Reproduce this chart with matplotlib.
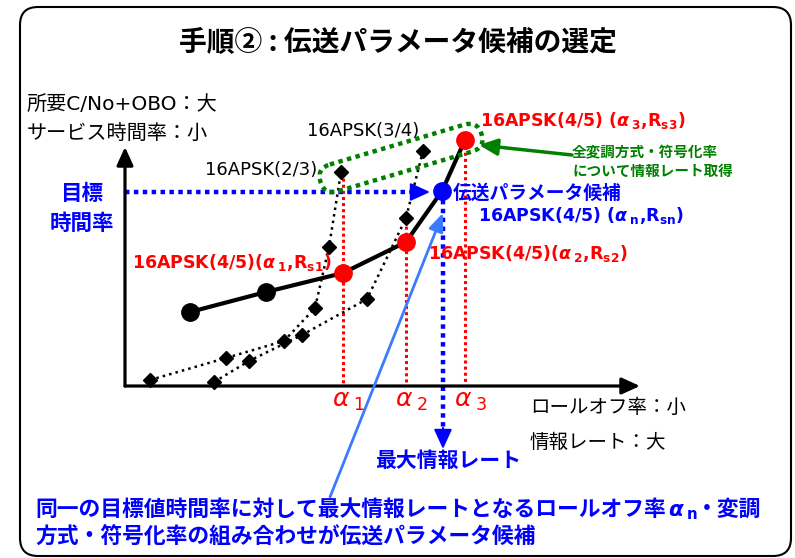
import matplotlib
matplotlib.use("Agg")
import matplotlib.pyplot as plt
from matplotlib.patches import FancyBboxPatch
from matplotlib.transforms import Affine2D

# ---- data (picture units: x = roll-off axis, y = required C/No+OBO axis, y grows downward) ----
apsk45_x = [190, 266, 343, 406, 442, 465]          # 16APSK(4/5)
apsk45_y = [312, 292, 273, 242, 191, 140]
apsk45_mark = ["k", "k", "r", "r", "b", "r"]
apsk23_x = [150, 226, 284, 315, 329, 341]          # 16APSK(2/3)
apsk23_y = [380, 358, 341, 308, 247, 172]
apsk34_x = [214, 249, 302, 367, 406, 423]          # 16APSK(3/4)
apsk34_y = [382, 361, 335, 299, 218, 151]
alpha_x = [343, 406, 465]                          # alpha_1..alpha_3
alpha_top = [172, 220, 140]
alpha_sub = ["1", "2", "3"]
target_y = 192                                     # target time rate
cand_x, cand_y = 443, 191                          # chosen candidate
origin = (125, 386)
x_end, y_end = 640, 147

RED, BLUE, GREEN, LBLUE = "#ff0000", "#0000ff", "#008000", "#3b7bff"
JP = ["Noto Sans CJK JP"]
MIX = ["DejaVu Sans", "Noto Sans CJK JP"]

plt.rcParams["mathtext.fontset"] = "custom"
plt.rcParams["mathtext.rm"] = "DejaVu Sans:bold"
plt.rcParams["mathtext.it"] = "DejaVu Sans:italic:bold"
plt.rcParams["mathtext.bf"] = "DejaVu Sans:bold"
plt.rcParams["mathtext.sf"] = "DejaVu Sans"
plt.rcParams["mathtext.tt"] = "DejaVu Sans:italic"

W, H = 795, 558
fig = plt.figure(figsize=(W / 100, H / 100), dpi=100)
ax = fig.add_axes([0, 0, 1, 1])
ax.set_xlim(0, W); ax.set_ylim(H, 0); ax.set_axis_off()

# frame
ax.add_patch(FancyBboxPatch((20, 7), 771, 549, boxstyle="round,pad=0,rounding_size=18",
                            fc="none", ec="k", lw=1.5))


def arrow(x0, y0, x1, y1, color, lw, hl=1.1, hw=0.5):
    ax.annotate("", xy=(x1, y1), xytext=(x0, y0),
                arrowprops=dict(arrowstyle=f"-|>,head_length={hl},head_width={hw}", color=color,
                                lw=lw, shrinkA=0, shrinkB=0, mutation_scale=10))


# axes
arrow(origin[0], origin[1], origin[0], y_end, "k", 2.3)
arrow(origin[0], origin[1], x_end, origin[1], "k", 2.3)

# dotted curves
ax.plot(apsk23_x, apsk23_y, color="k", lw=1.8, ls=":", zorder=3)
ax.plot(apsk34_x, apsk34_y, color="k", lw=1.8, ls=":", zorder=3)
ax.plot(apsk23_x, apsk23_y, "D", color="k", ms=7.5, zorder=4)
ax.plot(apsk34_x, apsk34_y, "D", color="k", ms=7.5, zorder=4)

# red alpha verticals
for x, yt in zip(alpha_x, alpha_top):
    ax.plot([x, x], [yt, origin[1]], color=RED, lw=2.2, ls=(0, (1, 1)), zorder=2)

# target line + candidate arrows
ax.plot([origin[0], 418], [target_y, target_y], color=BLUE, lw=3.2, ls=(0, (1, 1)), zorder=2)
arrow(410, target_y, 430, target_y, BLUE, 1.5, hl=1.2, hw=0.55)
ax.plot([cand_x, cand_x], [cand_y, 436], color=BLUE, lw=3.2, ls=(0, (1, 1)), zorder=2)
arrow(cand_x, 428, cand_x, 449, BLUE, 1.5, hl=1.2, hw=0.55)

# solid curve
ax.plot(apsk45_x, apsk45_y, color="k", lw=3, zorder=5)
cmap = {"k": "k", "r": RED, "b": BLUE}
for x, y, m in zip(apsk45_x, apsk45_y, apsk45_mark):
    ax.plot(x, y, "o", color=cmap[m], ms=12.5, zorder=6)

# green capsule around top points
cx, cy, L, h = 401, 158, 168, 28
cap = FancyBboxPatch((cx - L / 2, cy - h / 2), L, h, boxstyle=f"round,pad=0,rounding_size={h / 2}",
                     fc="none", ec=GREEN, lw=3.2, ls=(0, (1, 1)), zorder=7)
cap.set_transform(Affine2D().rotate_deg_around(cx, cy, -16.5) + ax.transData)
ax.add_patch(cap)
arrow(572, 155, 479, 145, GREEN, 2.5, hl=1.1, hw=0.5)

# light-blue pointer
arrow(330, 497, 443, 213, LBLUE, 2.0, hl=1.1, hw=0.45)

# ---- texts ----
ax.text(398, 43, "手順② : 伝送パラメータ候補の選定", ha="center", va="center", fontsize=20,
        fontweight="bold", family=JP)
ax.text(27, 104, "所要C/No+OBO：大", va="center", fontsize=14.5, family=MIX)
ax.text(27, 133, "サービス時間率：小", va="center", fontsize=14.5, family=MIX)
ax.text(307, 131, "16APSK(3/4)", va="center", fontsize=13, family=MIX)
ax.text(205, 170, "16APSK(2/3)", va="center", fontsize=13, family=MIX)
ax.text(82, 193, "目標", ha="center", va="center", fontsize=15.5, fontweight="bold", color=BLUE, family=JP)
ax.text(82, 223, "時間率", ha="center", va="center", fontsize=15.5, fontweight="bold", color=BLUE, family=JP)

lab = dict(fontsize=12.5, fontweight="bold", family="DejaVu Sans", va="baseline")
ax.text(132, 268, r"16APSK(4/5)(${\alpha\,}_{1}$,R$_{\mathrm{s1}}$)", color=RED, **lab)
ax.text(428, 259, r"16APSK(4/5)(${\alpha\,}_{2}$,R$_{\mathrm{s2}}$)", color=RED, **lab)
ax.text(480, 126, r"16APSK(4/5) (${\alpha\,}_{3}$,R$_{\mathrm{s3}}$)", color=RED, **lab)
ax.text(478, 221, r"16APSK(4/5) (${\alpha\,}_{\mathrm{n}}$,R$_{\mathrm{sn}}$)", color=BLUE, **lab)
ax.text(453, 193, "伝送パラメータ候補", va="center", fontsize=13.5, fontweight="bold", color=BLUE, family=JP)
ax.text(572, 152, "全変調方式・符号化率", va="center", fontsize=10.5, fontweight="bold", color=GREEN, family=JP)
ax.text(572, 171, "について情報レート取得", va="center", fontsize=10.5, fontweight="bold", color=GREEN,
        family=JP)

for x, s in zip(alpha_x, alpha_sub):
    ax.text(x - 11, 407, r"$\mathtt{\alpha}\,_{\mathsf{%s}}$" % s, fontsize=18, color=RED, va="baseline")

ax.text(530, 407, "ロールオフ率：小", va="center", fontsize=14, family=JP)
ax.text(530, 442, "情報レート：大", va="center", fontsize=14, family=JP)
ax.text(375, 460, "最大情報レート", va="center", fontsize=15, fontweight="bold", color=BLUE, family=JP)

# bottom note: CJK text with an alpha_n in the middle, pieces laid end to end
r = fig.canvas.get_renderer()
inv = ax.transData.inverted()
base1, base2 = 516, 544
t1 = ax.text(35, base1, "同一の目標値時間率に対して最大情報レートとなるロールオフ率", va="baseline",
             fontsize=15.7, fontweight="bold", color=BLUE, family=JP)
x1 = inv.transform(t1.get_window_extent(r).get_points())[1][0]
t2 = ax.text(x1 + 2, base1, r"${\alpha\,}_{\mathrm{n}}$", va="baseline", fontsize=15.5, color=BLUE)
x2 = inv.transform(t2.get_window_extent(r).get_points())[1][0]
ax.text(x2 - 2, base1, "・変調", va="baseline", fontsize=15.7, fontweight="bold", color=BLUE, family=JP)
ax.text(35, base2, "方式・符号化率の組み合わせが伝送パラメータ候補", va="baseline", fontsize=15.7,
        fontweight="bold", color=BLUE, family=JP)

fig.savefig("out.png", dpi=100)
